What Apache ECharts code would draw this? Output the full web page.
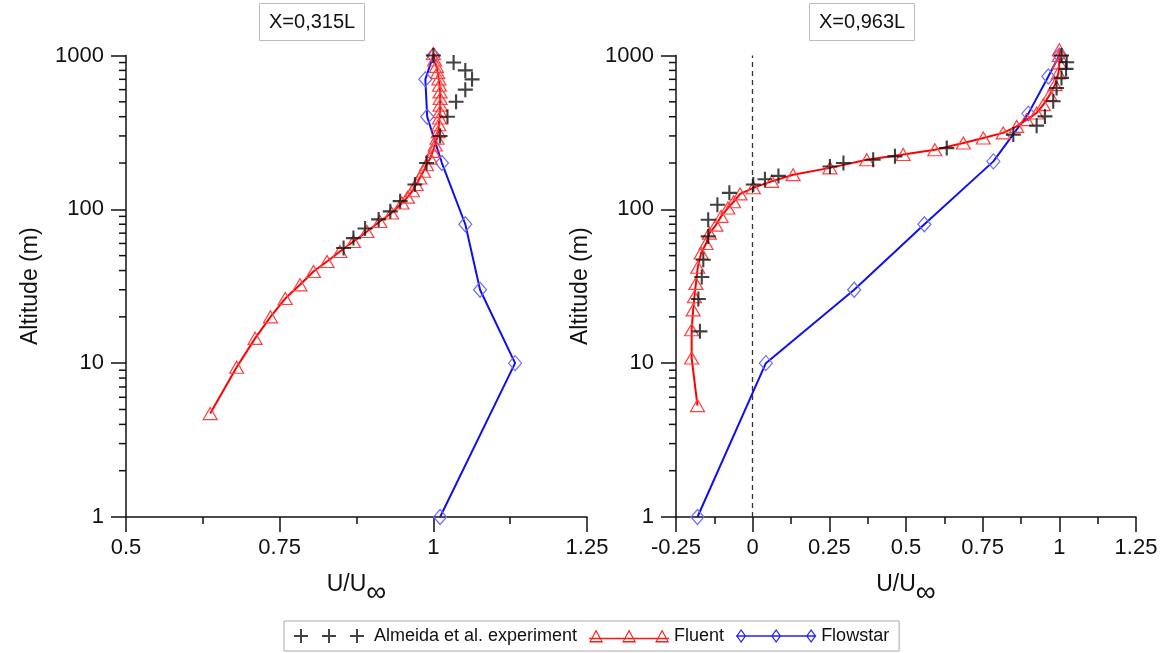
<!DOCTYPE html>
<html>
<head>
<meta charset="utf-8">
<script src="https://cdn.jsdelivr.net/npm/echarts@6/dist/echarts.min.js"></script>
<style>html,body{margin:0;padding:0;background:#fff}#c{width:1164px;height:653px}</style>
</head>
<body>
<div id="c"></div>
<script>
// ---- data (U/U∞, altitude m) ----
const titles = ['X=0,315L', 'X=0,963L'];
const seriesNames = ['Almeida et al. experiment', 'Fluent', 'Flowstar'];
const leftXTicks = [0.5, 1.25];
const rightXTicks = [-0.25, 1.25];
const minorTickValues = [2,3,4,5,6,7,8,9,20,30,40,50,60,70,80,90,200,300,400,500,600,700,800,900];

const leftExp = [[0.854,56],[0.870,65],[0.889,75],[0.911,86],[0.930,97],[0.946,113],[0.970,145],[0.989,200],[1.011,300],[1.023,400],[1.037,500],[1.052,600],[1.063,700],[1.052,800],[1.033,900],[1.0,1000]];
const leftFluent = [[0.637,4.7],[0.680,9.4],[0.710,14.5],[0.735,20],[0.759,26.3],[0.783,32.3],[0.805,39.4],[0.827,45.8],[0.848,53.2],[0.870,61.8],[0.892,71.8],[0.913,83.4],[0.932,94.6],[0.949,110],[0.958,120],[0.966,132],[0.972,145],[0.978,160],[0.984,177],[0.989,195],[0.995,215],[0.999,238],[1.003,262],[1.006,290],[1.008,320],[1.009,355],[1.010,392],[1.011,432],[1.011,476],[1.011,525],[1.011,580],[1.010,640],[1.009,705],[1.007,775],[1.005,850],[1.002,935],[1.0,1030]];
const leftFlowstar = [[1.011,1],[1.133,10],[1.076,30],[1.052,80],[1.014,200],[0.990,400],[0.987,700],[1.0,1000]];

const rightExp = [[-0.172,16.1],[-0.177,26.1],[-0.166,36.3],[-0.161,47],[-0.145,66.7],[-0.145,85.6],[-0.115,107],[-0.076,128],[0.002,145],[0.040,157],[0.084,165],[0.252,190],[0.296,200],[0.393,210],[0.464,221],[0.633,250],[0.850,306],[0.926,350],[0.953,402],[0.980,504],[0.991,615],[1.007,715],[1.022,818],[1.024,903],[1.007,1000]];
const rightFluent = [[-0.180,5.3],[-0.199,10.8],[-0.199,16.5],[-0.194,22.2],[-0.190,27],[-0.185,33],[-0.179,42],[-0.168,52],[-0.152,60],[-0.141,70],[-0.120,79],[-0.103,90],[-0.081,102],[-0.062,112],[-0.041,126],[0.002,138],[0.062,152],[0.132,168],[0.252,186],[0.372,210],[0.491,227],[0.594,244],[0.687,270],[0.752,291],[0.817,314],[0.861,346],[0.893,383],[0.926,423],[0.948,479],[0.969,557],[0.986,647],[0.997,771],[1.0,896],[1.0,1000],[1.0,1090]];
const rightFlowstar = [[-0.18,1],[0.043,10],[0.331,30],[0.560,80],[0.785,205],[0.899,419],[0.964,730],[1.0,1000]];

const FONT = 'Liberation Sans';
const plusPath = 'path://M0,4.3H10V5.7H0Z M4.3,0H5.7V10H4.3Z';
const plus3Path = 'path://M0,4.3H10V5.7H0Z M4.3,0H5.7V10H4.3Z M20,4.3H30V5.7H20Z M24.3,0H25.7V10H24.3Z M40,4.3H50V5.7H40Z M44.3,0H45.7V10H44.3Z';
function triIcon() {
  let p = 'path://M0,8.2H80V9.8H0Z';
  [7, 40, 73].forEach(c => {
    p += ` M${c},0 L${c + 7},13 L${c - 7},13 Z M${c},2.6 L${c - 5.1},11.6 L${c + 5.1},11.6 Z`;
  });
  return p;
}
function diaIcon() {
  let p = 'path://M0,6.2H80V7.8H0Z';
  [5, 40, 75].forEach(c => {
    p += ` M${c},0 L${c + 5},7 L${c},14 L${c - 5},7 Z M${c},1.9 L${c - 3.6},7 L${c},12.1 L${c + 3.6},7 Z`;
  });
  return p;
}

function xAxisCfg(gi, range) {
  return {
    type: 'value', gridIndex: gi, min: range[0], max: range[1], interval: 0.25,
    name: '{a|U/U}{b|∞}', nameLocation: 'middle', nameGap: 56,
    nameTextStyle: { rich: {
      a: { fontFamily: FONT, fontSize: 23, color: '#111', lineHeight: 34, verticalAlign: 'top' },
      b: { fontFamily: FONT, fontSize: 28, color: '#111', lineHeight: 34, verticalAlign: 'bottom' } } },
    axisLine: { onZero: false, lineStyle: { color: '#111', width: 1.5 } },
    axisTick: { length: 15, lineStyle: { color: '#111', width: 1.5 } },
    minorTick: { show: true, splitNumber: 2, length: 7, lineStyle: { color: '#111', width: 1.5 } },
    axisLabel: { margin: 20, fontFamily: FONT, fontSize: 22, color: '#111' },
    splitLine: { show: false }
  };
}
function yAxisCfg(gi) {
  return {
    type: 'log', logBase: 10, gridIndex: gi, min: 1, max: 1000,
    name: 'Altitude (m)', nameLocation: 'middle', nameGap: 84, nameRotate: 90,
    nameTextStyle: { fontFamily: FONT, fontSize: 23, color: '#111' },
    axisLine: { onZero: false, lineStyle: { color: '#111', width: 1.5 } },
    axisTick: { length: 15, lineStyle: { color: '#111', width: 1.5 } },
    axisLabel: { margin: 22, fontFamily: FONT, fontSize: 22, color: '#111', formatter: v => String(v) },
    splitLine: { show: false }
  };
}
function minorTicks(gi, xmin) {
  return {
    type: 'custom', xAxisIndex: gi, yAxisIndex: gi, silent: true, clip: false,
    data: minorTickValues.map(v => [xmin, v]),
    renderItem: function (params, api) {
      const p = api.coord([api.value(0), api.value(1)]);
      return { type: 'line', shape: { x1: p[0] - 7, y1: p[1], x2: p[0], y2: p[1] },
        style: { stroke: '#111', lineWidth: 1.5 } };
    }
  };
}
function expSeries(gi, data) {
  return { name: seriesNames[0], type: 'scatter', xAxisIndex: gi, yAxisIndex: gi, data: data,
    symbol: plusPath, symbolSize: 15, itemStyle: { color: '#111' }, clip: false, z: 5 };
}
function fluentSeries(gi, data) {
  return { name: seriesNames[1], type: 'line', xAxisIndex: gi, yAxisIndex: gi, data: data,
    symbol: 'triangle', symbolSize: [14, 12], showAllSymbol: true, clip: false,
    lineStyle: { color: '#ff0000', width: 2 },
    itemStyle: { color: 'rgba(255,255,255,0)', borderColor: '#ff4040', borderWidth: 1.2 }, z: 3 };
}
function flowSeries(gi, data) {
  return { name: seriesNames[2], type: 'line', xAxisIndex: gi, yAxisIndex: gi, data: data,
    symbol: 'diamond', symbolSize: [13, 15], showAllSymbol: true, clip: false,
    lineStyle: { color: '#1010ee', width: 2 },
    itemStyle: { color: 'rgba(255,255,255,0)', borderColor: '#6a6aff', borderWidth: 1.2 }, z: 2 };
}

const chart = echarts.init(document.getElementById('c'), null, { renderer: 'canvas' });
chart.setOption({
  backgroundColor: '#fff',
  animation: false,
  title: [
    { text: titles[0], left: 259, top: 3, padding: [9, 10], borderColor: '#bbb', borderWidth: 1,
      textStyle: { fontFamily: FONT, fontSize: 20, fontWeight: 'normal', color: '#111' } },
    { text: titles[1], left: 809, top: 3, padding: [9, 10], borderColor: '#bbb', borderWidth: 1,
      textStyle: { fontFamily: FONT, fontSize: 20, fontWeight: 'normal', color: '#111' } }
  ],
  legend: {
    left: 284, top: 621, orient: 'horizontal', itemGap: 12, padding: [6, 10],
    borderColor: '#aaa', borderWidth: 1,
    itemWidth: 80, itemHeight: 14,
    textStyle: { fontFamily: FONT, fontSize: 18, color: '#111' },
    data: [
      { name: seriesNames[0], icon: plus3Path, itemStyle: { color: '#111', borderWidth: 0 } },
      { name: seriesNames[1], icon: triIcon(), itemStyle: { color: '#ff1a1a', borderWidth: 0 } },
      { name: seriesNames[2], icon: diaIcon(), itemStyle: { color: '#2020f0', borderWidth: 0 } }
    ]
  },
  grid: [
    { left: 126, right: 577, top: 55.5, bottom: 136 },
    { left: 676, right: 28, top: 55.5, bottom: 136 }
  ],
  xAxis: [xAxisCfg(0, leftXTicks), xAxisCfg(1, rightXTicks)],
  yAxis: [yAxisCfg(0), yAxisCfg(1)],
  series: [
    minorTicks(0, leftXTicks[0]),
    minorTicks(1, rightXTicks[0]),
    flowSeries(0, leftFlowstar),
    fluentSeries(0, leftFluent),
    expSeries(0, leftExp),
    Object.assign(flowSeries(1, rightFlowstar), {
      markLine: { silent: true, symbol: 'none', label: { show: false },
        lineStyle: { color: '#333', type: [5, 4], width: 1.3 },
        data: [[{ coord: [0, 1] }, { coord: [0, 1000] }]] } }),
    fluentSeries(1, rightFluent),
    expSeries(1, rightExp)
  ]
});
</script>
</body>
</html>
